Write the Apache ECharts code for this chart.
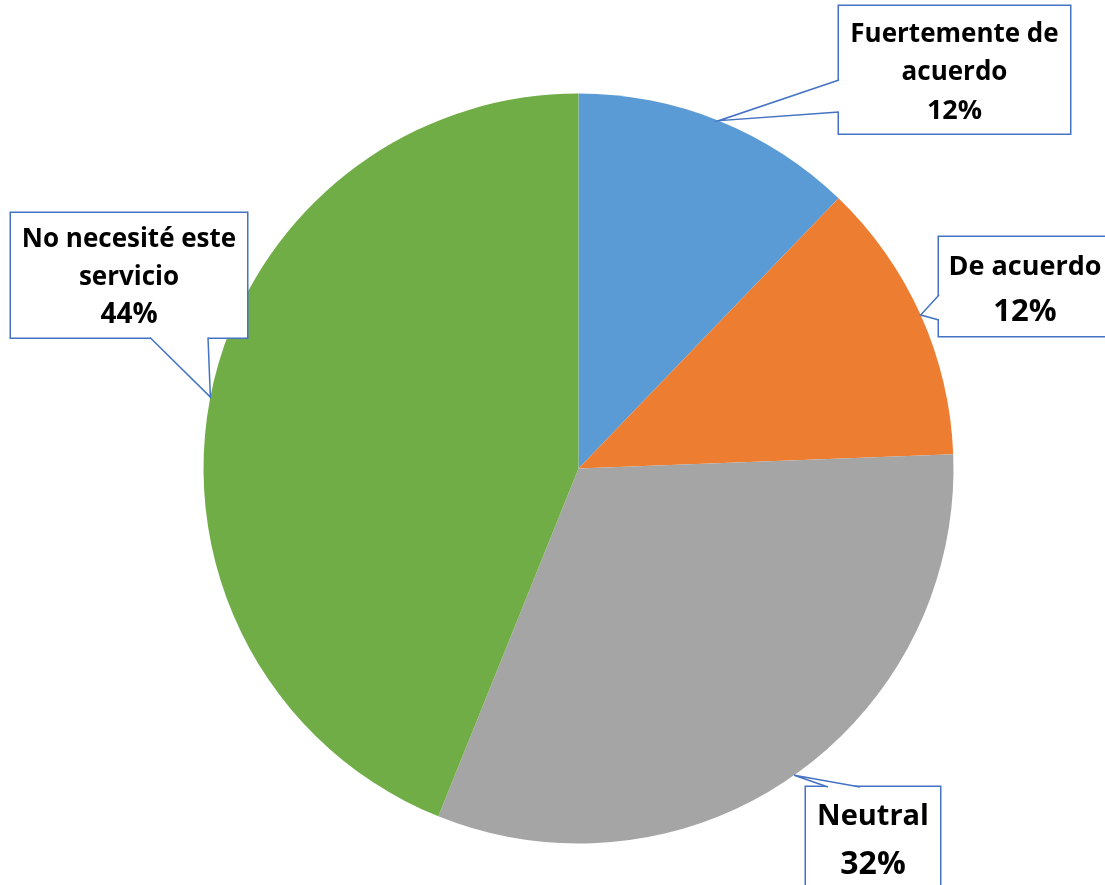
<!DOCTYPE html>
<html lang="es">
<head>
    <meta charset="UTF-8">
    <title></title>
    <style type="text/css">
        html,
        body,
        .canvas {
            padding: 0;
            margin: 0;
            overflow: hidden;
            background-color: #fff;
            width: 100%;
            height: 100%;
        }
    </style>
</head>
<body>
<div class="canvas" id="pieChart"></div>
<script type="text/javascript" src="https://cdn.jsdelivr.net/npm/echarts@6/dist/echarts.min.js"></script>
<script>
    // data
    const categories = ['Fuertemente de acuerdo', 'De acuerdo', 'Neutral', 'No necesité este servicio'];
    const counts = [5, 5, 13, 18];
    const colors = ['#5B9BD5', '#ED7D31', '#A5A5A5', '#70AD47'];
    // how each name is broken into lines inside its callout
    const nameLines = [['Fuertemente de', 'acuerdo'], ['De acuerdo'], ['Neutral'], ['No necesité este', 'servicio']];

    // callout boxes: x, y, w, padding, font sizes, line heights, wedge base
    const boxes = [
        {x: 839, y: 6, w: 231, pad: [9, 0, 3, 0], nf: 26, nl: 38.5, pf: 27, pl: 38.5, side: 'left', base: [74, 106]},
        {x: 939, y: 237, w: 172, pad: [9, 0, 0, 0], nf: 27, nl: 42, pf: 31, pl: 48, side: 'left', base: [58, 83]},
        {x: 806, y: 787, w: 134, pad: [8, 0, 4, 0], nf: 29, nl: 44, pf: 32, pl: 52, side: 'top', base: [22, 54]},
        {x: 11, y: 213, w: 236, pad: [8, 0, 4, 0], nf: 26, nl: 37.5, pf: 28, pl: 37.5, side: 'bottom', base: [139, 197]}
    ];
    const lineColor = '#4472C4';

    const chart = echarts.init(document.getElementById('pieChart'));

    function boxHeight(b, i) {
        return b.pad[0] + b.pad[2] + nameLines[i].length * b.nl + b.pl;
    }

    const option = {
        animation: false,
        backgroundColor: '#fff',
        series: [{
            type: 'pie',
            center: [578.5, 468.5],
            radius: 375,
            startAngle: 90,
            clockwise: true,
            percentPrecision: 0,
            avoidLabelOverlap: false,
            itemStyle: {borderWidth: 0},
            emphasis: {disabled: true},
            labelLine: {show: false},
            data: categories.map(function (name, i) {
                const b = boxes[i];
                return {
                    name: name,
                    value: counts[i],
                    itemStyle: {color: colors[i]},
                    label: {
                        show: true,
                        position: 'outside',
                        width: b.w,
                        padding: b.pad,
                        align: 'center',
                        backgroundColor: '#fff',
                        borderColor: lineColor,
                        borderWidth: 1.5,
                        formatter: function (p) {
                            return nameLines[p.dataIndex].map(function (s) {
                                return '{n|' + s + '}';
                            }).join('\n') + '\n{p|' + p.percent + '%}';
                        },
                        rich: {
                            n: {fontFamily: 'Open Sans', fontWeight: 'bold', fontSize: b.nf, lineHeight: b.nl, color: '#000', align: 'center'},
                            p: {fontFamily: 'Open Sans', fontWeight: 'bold', fontSize: b.pf, lineHeight: b.pl, color: '#000', align: 'center'}
                        }
                    }
                };
            }),
            labelLayout: function (params) {
                const b = boxes[params.dataIndex];
                return {
                    x: b.x + b.w / 2,
                    y: b.y + boxHeight(b, params.dataIndex) / 2,
                    align: 'center',
                    verticalAlign: 'middle'
                };
            }
        }]
    };
    chart.setOption(option);

    // speech-bubble wedges pointing at the middle of each slice's arc
    const pieData = chart.getModel().getSeriesByIndex(0).getData();
    const wedges = [];
    boxes.forEach(function (b, i) {
        const lay = pieData.getItemLayout(i);
        const mid = (lay.startAngle + lay.endAngle) / 2;
        const tip = [lay.cx + lay.r * Math.cos(mid), lay.cy + lay.r * Math.sin(mid)];
        const h = boxHeight(b, i);
        let a, c, a2, c2;
        if (b.side === 'left') {
            a = [b.x, b.y + b.base[0]]; c = [b.x, b.y + b.base[1]];
            a2 = [b.x + 2, a[1]]; c2 = [b.x + 2, c[1]];
        } else if (b.side === 'top') {
            a = [b.x + b.base[0], b.y]; c = [b.x + b.base[1], b.y];
            a2 = [a[0], b.y + 2]; c2 = [c[0], b.y + 2];
        } else {
            a = [b.x + b.base[0], b.y + h]; c = [b.x + b.base[1], b.y + h];
            a2 = [a[0], b.y + h - 2]; c2 = [c[0], b.y + h - 2];
        }
        wedges.push({type: 'polygon', z: 100, silent: true, shape: {points: [a2, a, tip, c, c2]}, style: {fill: '#fff'}});
        wedges.push({type: 'polyline', z: 101, silent: true, shape: {points: [a, tip, c]}, style: {stroke: lineColor, lineWidth: 1.5, fill: null}});
    });
    chart.setOption({graphic: wedges});
</script>
</body>
</html>
